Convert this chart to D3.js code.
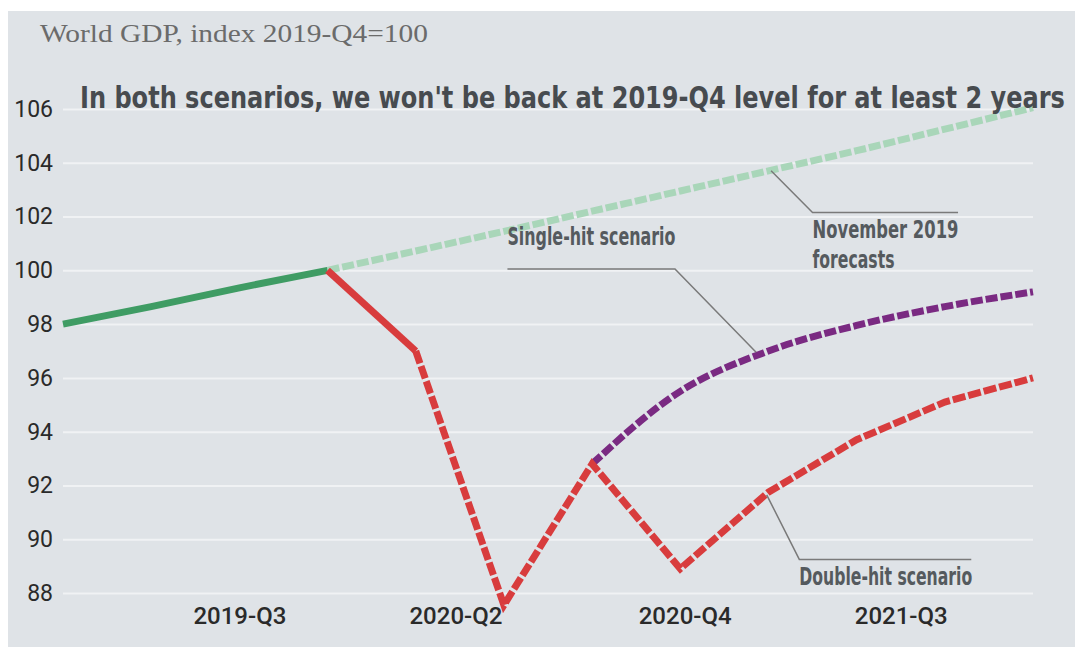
<!DOCTYPE html>
<html>
<head>
<meta charset="utf-8">
<script src="https://cdn.jsdelivr.net/npm/d3@7"></script>
<style>
  body { margin: 0; background: #fff; }
  svg { display: block; }
</style>
</head>
<body>
<div id="chart"></div>
<script>
// Quarter index: 0 = 2019-Q4
var histX = [-3, -2, -1, 0];
var histY = [98.0, 98.65, 99.35, 100];

var novX = [0, 1, 2, 3, 4, 5, 6, 7, 8];
var novY = [100, 100.72, 101.45, 102.2, 102.95, 103.7, 104.45, 105.25, 106.05];

var dropX = [0, 1];
var dropY = [100, 97];

var doubleX = [1, 2, 3, 4, 5, 6, 7, 8];
var doubleY = [97, 87.55, 92.8, 88.9, 91.75, 93.7, 95.1, 96.0];

var singleX = [3, 4, 5, 6, 7, 8];
var singleY = [92.8, 95.5, 97.0, 97.95, 98.65, 99.2];

var xTickPos = [-1, 1.45, 4.05, 6.5];
var xTickLabels = ["2019-Q3", "2020-Q2", "2020-Q4", "2021-Q3"];
var yTicks = [88, 90, 92, 94, 96, 98, 100, 102, 104, 106];

var svgWidth = 1075;
var svgHeight = 648;

var Margin = { top: 109, right: 42, bottom: 55, left: 63 };
var width = svgWidth - Margin.left - Margin.right;
var height = 593 - Margin.top;

var svg = d3.select("#chart")
  .append("svg")
  .attr("width", svgWidth)
  .attr("height", svgHeight);

// grey panel
svg.append("rect")
  .attr("x", 8)
  .attr("y", 11)
  .attr("width", svgWidth - 8)
  .attr("height", svgHeight - 12)
  .attr("fill", "#dfe3e7");

var chartGroup = svg.append("g")
  .attr("transform", `translate(${Margin.left}, ${Margin.top})`);

var x = d3.scaleLinear().domain([-3, 8]).range([0, width]);
var y = d3.scaleLinear().domain([88, 106]).range([height, 0]);

// y axis + gridlines
var yAxis = chartGroup.append("g")
  .call(d3.axisLeft(y).tickValues(yTicks).tickSize(-width).tickPadding(10).tickFormat(d3.format("d")));
yAxis.select(".domain").remove();
yAxis.selectAll("line").attr("stroke", "#f0f2f4").attr("stroke-width", 2);
yAxis.selectAll("text")
  .attr("fill", "#2a2a2a")
  .style("font-family", "Roboto, 'Noto Sans', sans-serif")
  .style("font-size", "23px");

// x axis labels
var xAxis = chartGroup.append("g")
  .attr("transform", `translate(0, ${height})`)
  .call(d3.axisBottom(x).tickValues(xTickPos).tickSize(0).tickPadding(14)
    .tickFormat(function(d, i) { return xTickLabels[i]; }));
xAxis.select(".domain").remove();
xAxis.selectAll("text")
  .attr("fill", "#2a2a2a")
  .style("font-family", "Roboto, 'Noto Sans', sans-serif")
  .style("font-weight", "500")
  .style("font-size", "24px");

function pts(xs, ys) {
  return xs.map(function(d, i) { return [d, ys[i]]; });
}

var line = d3.line().x(d => x(d[0])).y(d => y(d[1]));
var smooth = d3.line().x(d => x(d[0])).y(d => y(d[1])).curve(d3.curveMonotoneX);

// November 2019 forecasts
chartGroup.append("path")
  .attr("d", smooth(pts(novX, novY)))
  .attr("fill", "none")
  .attr("stroke", "#a9d6b9")
  .attr("stroke-width", 7)
  .attr("stroke-dasharray", "12,3");

// history
chartGroup.append("path")
  .attr("d", line(pts(histX, histY)))
  .attr("fill", "none")
  .attr("stroke", "#3f9c64")
  .attr("stroke-width", 7);

// single-hit
chartGroup.append("path")
  .attr("d", smooth(pts(singleX, singleY)))
  .attr("fill", "none")
  .attr("stroke", "#7a2a82")
  .attr("stroke-width", 7)
  .attr("stroke-dasharray", "12,3");

// first drop (solid) and double-hit (dashed)
chartGroup.append("path")
  .attr("d", line(pts(dropX, dropY)))
  .attr("fill", "none")
  .attr("stroke", "#d83c3d")
  .attr("stroke-width", 7);

chartGroup.append("path")
  .attr("d", line(pts(doubleX, doubleY)))
  .attr("fill", "none")
  .attr("stroke", "#d83c3d")
  .attr("stroke-width", 7)
  .attr("stroke-linejoin", "miter")
  .attr("stroke-dasharray", "13,3");

// squeeze a text horizontally to a given width (narrow gothic look)
function fitText(sel, x0, w) {
  var natural = sel.node().getComputedTextLength();
  var k = w / natural;
  sel.attr("transform", `translate(${x0},0) scale(${k},1) translate(${-x0},0)`);
}

// annotations (leader lines in data units)
var leaders = [
  [[5.03, 103.7], [5.5, 102.15], [7.15, 102.15]],
  [[4.86, 96.95], [3.94, 100.05], [2.04, 100.05]],
  [[4.98, 91.65], [5.35, 89.25], [7.3, 89.25]]
];
leaders.forEach(function(l) {
  chartGroup.append("path")
    .attr("d", line(l))
    .attr("fill", "none")
    .attr("stroke", "#7a7a7a")
    .attr("stroke-width", 1.5);
});

var condensed = "'DejaVu Sans Condensed', 'Liberation Sans Narrow', sans-serif";
var notes = [
  { t: "November 2019", x: 5.5, y: 101.2, w: 146 },
  { t: "forecasts", x: 5.5, y: 100.1, w: 82 },
  { t: "Single-hit scenario", x: 2.04, y: 100.95, w: 168 },
  { t: "Double-hit scenario", x: 5.35, y: 88.3, w: 173 }
];
notes.forEach(function(n) {
  var t = chartGroup.append("text")
    .attr("x", x(n.x))
    .attr("y", y(n.y))
    .attr("fill", "#555a5e")
    .style("font-family", condensed)
    .style("font-weight", "bold")
    .style("font-size", "24px")
    .text(n.t);
  fitText(t, x(n.x), n.w);
});

// titles
var title = svg.append("text")
  .attr("x", 40)
  .attr("y", 42)
  .attr("fill", "#6b6b6b")
  .style("font-family", "'Liberation Serif', 'DejaVu Serif', serif")
  .style("font-size", "26px")
  .text("World GDP, index 2019-Q4=100");
fitText(title, 40, 388);

var sub = svg.append("text")
  .attr("x", 80)
  .attr("y", 108)
  .attr("fill", "#474b4f")
  .style("font-family", condensed)
  .style("font-weight", "bold")
  .style("font-size", "31px")
  .text("In both scenarios, we won't be back at 2019-Q4 level for at least 2 years");
fitText(sub, 80, 985);
</script>
</body>
</html>
